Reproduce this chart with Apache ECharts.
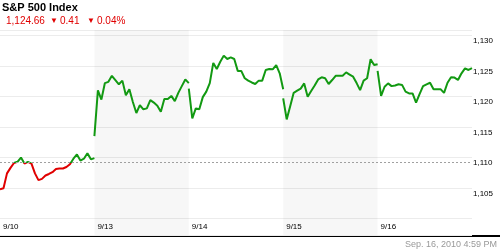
<!DOCTYPE html>
<html><head><meta charset="utf-8">
<script src="https://cdn.jsdelivr.net/npm/echarts@6/dist/echarts.min.js"></script>
<style>html,body{margin:0;padding:0;background:#fff}#c{width:500px;height:250px}</style>
</head><body><div id="c"></div>
<script>
// ---- data ----
const titleText = 'S&P 500 Index';
const lastPrice = '1,124.66';
const changeText = '0.41';
const changePct = '0.04%';
const timestamp = 'Sep. 16, 2010 4:59 PM';
const dayLabels = ['9/10', '9/13', '9/14', '9/15', '9/16'];
const slotsPerDay = 27;           // 15-minute slots between day starts
const shadedDays = [1, 3];
const prevClose = 1109.15;
const yTickLabels = [1105, 1110, 1115, 1120, 1125, 1130];
const yMin = 1097.3, yMax = 1130.9;

const day0 = [1104.8, 1104.95, 1107.4, 1108.3, 1109.1, 1109.3, 1110.0, 1109.0, 1109.3, 1109.0,
              1107.4, 1106.3, 1106.5, 1107.05, 1107.3, 1107.6, 1108.1, 1108.2, 1108.2, 1108.45,
              1108.9, 1109.8, 1110.5, 1109.5, 1109.8, 1110.7, 1109.7, 1109.9];
const day1 = [1113.5, 1121.0, 1119.5, 1122.2, 1122.4, 1123.4, 1122.7, 1122.0, 1122.6, 1120.2,
              1121.2, 1119.1, 1117.3, 1118.6, 1117.9, 1118.05, 1119.4, 1119.0, 1118.5, 1117.5,
              1119.6, 1119.6, 1120.1, 1119.25, 1120.6, 1121.7, 1122.8, 1122.2];
const day2 = [1121.3, 1116.4, 1118.05, 1117.9, 1119.9, 1120.8, 1122.2, 1125.5, 1124.5, 1125.7,
              1126.7, 1126.15, 1126.4, 1126.15, 1124.2, 1124.2, 1123.0, 1122.6, 1122.3, 1122.05,
              1122.6, 1122.6, 1124.35, 1124.5, 1124.45, 1125.15, 1123.8, 1121.2];
const day3 = [1119.7, 1116.25, 1118.4, 1120.6, 1120.95, 1121.3, 1122.15, 1119.95, 1120.9, 1121.8,
              1122.8, 1123.15, 1123.0, 1122.05, 1122.7, 1123.4, 1123.4, 1123.4, 1123.95, 1123.6,
              1123.25, 1122.2, 1121.05, 1122.6, 1123.0, 1126.1, 1125.15, 1125.3];
const day4 = [1124.2, 1120.1, 1121.6, 1122.15, 1121.7, 1121.8, 1122.0, 1121.9, 1120.8, 1120.5,
              1120.5, 1119.0, 1120.4, 1121.7, 1122.0, 1122.25, 1121.2, 1121.2, 1121.2, 1120.6,
              1122.25, 1123.15, 1123.1, 1122.7, 1123.8, 1124.6, 1124.35, 1124.66];
const days = [day0, day1, day2, day3, day4];

// ---- chart ----
const FONT = '"Liberation Sans", Arial, sans-serif';
const RED = '#e00000', GREEN = '#129912';
const chart = echarts.init(document.getElementById('c'), null, {renderer: 'canvas'});

const series = days.map((vals, d) => ({
  type: 'line',
  data: vals.map((v, i) => [d * slotsPerDay + i, v]),
  showSymbol: false,
  symbol: 'none',
  lineStyle: {width: 2},
  z: 3,
  silent: true,
  animation: false
}));
series[0].markLine = {
  silent: true, symbol: 'none', animation: false,
  label: {show: false},
  lineStyle: {color: '#a0a0a0', type: [2, 2], width: 1},
  data: [{yAxis: prevClose}]
};
series[0].markArea = {
  silent: true, animation: false,
  itemStyle: {color: 'rgba(0,0,0,0.032)'},
  data: shadedDays.map(d => [{xAxis: d * slotsPerDay}, {xAxis: (d + 1) * slotsPerDay}])
};

chart.setOption({
  animation: false,
  backgroundColor: '#fff',
  grid: {left: 0, right: 28, top: 30, bottom: 15, containLabel: false, outerBoundsMode: 'none'},
  xAxis: {
    type: 'value', min: 0, max: slotsPerDay * dayLabels.length, interval: slotsPerDay,
    axisLine: {show: false}, axisTick: {show: false}, splitLine: {show: false},
    axisLabel: {
      inside: true, margin: 4, align: 'left', padding: [0, 0, 0, 3],
      color: '#000', fontSize: 8, fontFamily: FONT,
      formatter: v => dayLabels[Math.round(v / slotsPerDay)] || ''
    }
  },
  yAxis: {
    type: 'value', position: 'right', min: yMin, max: yMax, scale: true,
    axisLine: {show: false}, axisTick: {show: false},
    splitLine: {show: true, lineStyle: {color: '#ececec', width: 1}},
    axisLabel: {
      margin: 1, color: '#000', fontSize: 8, fontFamily: FONT,
      verticalAlign: 'top', lineHeight: 9, padding: [1, 0, 0, 0],
      formatter: v => yTickLabels.indexOf(Math.round(v * 100) / 100) >= 0 ? v.toLocaleString('en-US') : ''
    }
  },
  visualMap: {
    type: 'piecewise', show: false, dimension: 1, seriesIndex: [0, 1, 2, 3, 4],
    pieces: [{gt: 1000, lte: prevClose, color: RED}, {gt: prevClose, lte: 1300, color: GREEN}],
    outOfRange: {color: GREEN}
  },
  series: series,
  graphic: [
    {type: 'rect', silent: true, shape: {x: 0, y: 235, width: 500, height: 2}, style: {fill: '#000'}},
    {type: 'text', silent: true, style: {text: titleText, x: 2, y: 7.5, font: 'bold 11px ' + FONT, fill: '#000', verticalAlign: 'middle'}},
    {type: 'text', silent: true, style: {text: lastPrice, x: 6, y: 21, font: '10px ' + FONT, fill: RED, verticalAlign: 'middle'}},
    {type: 'text', silent: true, style: {text: '▼', x: 50, y: 20.5, font: '8px ' + FONT, fill: RED, verticalAlign: 'middle'}},
    {type: 'text', silent: true, style: {text: changeText, x: 60, y: 21, font: '10px ' + FONT, fill: RED, verticalAlign: 'middle'}},
    {type: 'text', silent: true, style: {text: '▼', x: 87, y: 20.5, font: '8px ' + FONT, fill: RED, verticalAlign: 'middle'}},
    {type: 'text', silent: true, style: {text: changePct, x: 97, y: 21, font: '10px ' + FONT, fill: RED, verticalAlign: 'middle'}},
    {type: 'text', silent: true, style: {text: timestamp, x: 497, y: 245, font: '9px ' + FONT, fill: '#999', align: 'right', verticalAlign: 'middle'}}
  ]
});
</script>
</body></html>
